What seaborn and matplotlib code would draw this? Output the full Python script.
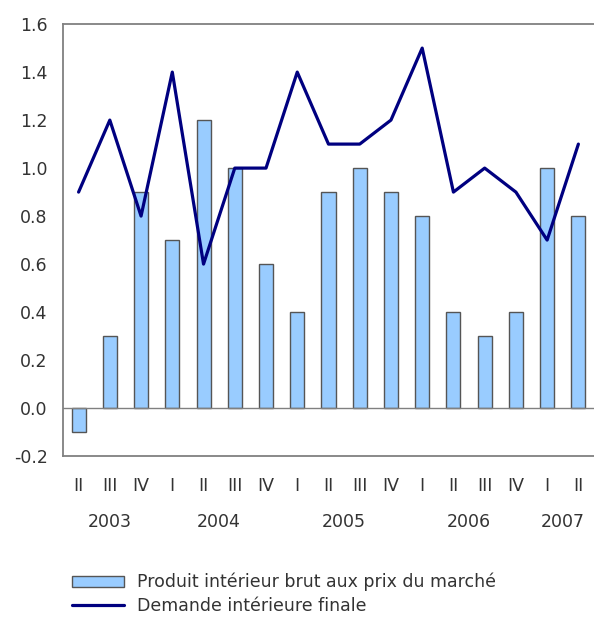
import numpy as np
import pandas as pd
import matplotlib
matplotlib.use("Agg")
import matplotlib.pyplot as plt
import matplotlib.transforms as mtransforms
import seaborn as sns

# quarterly growth, % (2003 Q2 -> 2007 Q2)
quarters = ["II", "III", "IV", "I", "II", "III", "IV", "I", "II",
            "III", "IV", "I", "II", "III", "IV", "I", "II"]
periods = ["2003 II", "2003 III", "2003 IV", "2004 I", "2004 II", "2004 III",
           "2004 IV", "2005 I", "2005 II", "2005 III", "2005 IV", "2006 I",
           "2006 II", "2006 III", "2006 IV", "2007 I", "2007 II"]
pib = [-0.1, 0.3, 0.9, 0.7, 1.2, 1.0, 0.6, 0.4, 0.9, 1.0, 0.9, 0.8,
       0.4, 0.3, 0.4, 1.0, 0.8]
demande = [0.9, 1.2, 0.8, 1.4, 0.6, 1.0, 1.0, 1.4, 1.1, 1.1, 1.2, 1.5,
           0.9, 1.0, 0.9, 0.7, 1.1]
years = ["2003", "2004", "2005", "2006", "2007"]
year_pos = [1, 4.5, 8.5, 12.5, 15.5]

df = pd.DataFrame({"periode": periods, "pib": pib, "demande": demande})

sns.set_style("white")
plt.rcParams["font.family"] = ["DejaVu Sans"]
txt = "#333333"
axc = "#808080"
fs = 12.5

fig = plt.figure(figsize=(5.94, 6.18), dpi=100)
ax = fig.add_axes([0.106, 0.262, 0.894, 0.699])

sns.barplot(data=df, x="periode", y="pib", color="#99ccff", saturation=1,
            width=0.45, edgecolor="#555555", linewidth=1, ax=ax,
            label="Produit intérieur brut aux prix du marché")
ax.plot(np.arange(len(periods)), df["demande"], color="#000080", lw=2.3,
        label="Demande intérieure finale")
ax.axhline(0, color=axc, lw=1, zorder=1)
if ax.get_legend() is not None:
    ax.get_legend().remove()

ax.set_xlim(-0.5, len(periods) - 0.5)
ax.set_ylim(-0.2, 1.6)
ax.set_yticks(np.arange(-0.2, 1.61, 0.2))
ax.set_yticklabels([f"{v:.1f}" for v in np.arange(-0.2, 1.61, 0.2)])
ax.set_xticks(np.arange(len(periods)))
ax.set_xticklabels(quarters)
ax.set_xticks(np.arange(0.5, len(periods) - 0.5), minor=True)
ax.tick_params(axis="x", which="major", length=0, pad=15, labelsize=fs, labelcolor=txt)
ax.tick_params(axis="x", which="minor", length=4, direction="in", color=axc, width=1)
ax.tick_params(axis="y", length=4, direction="in", color=axc, labelsize=fs,
               labelcolor=txt, pad=11)
ax.set_xlabel("")
ax.set_ylabel("")
for s in ["top", "left", "bottom"]:
    ax.spines[s].set_visible(True)
    ax.spines[s].set_color(axc)
    ax.spines[s].set_linewidth(1.3)
ax.spines["right"].set_visible(False)

trans = mtransforms.blended_transform_factory(ax.transData, fig.transFigure)
for y, p in zip(years, year_pos):
    ax.text(p, 1 - 522 / 618, y, transform=trans, ha="center", va="center",
            fontsize=fs, color=txt)

h, l = ax.get_legend_handles_labels()
order = [l.index("Produit intérieur brut aux prix du marché"),
         l.index("Demande intérieure finale")]
fig.legend([h[i] for i in order], [l[i] for i in order], loc="upper left",
           bbox_to_anchor=(0.107, 0.087), frameon=False,
           fontsize=fs, handlelength=3.0, handleheight=0.55, handletextpad=0.75,
           labelspacing=0.3, borderpad=0, labelcolor=txt)

fig.savefig("out.png", dpi=100)
